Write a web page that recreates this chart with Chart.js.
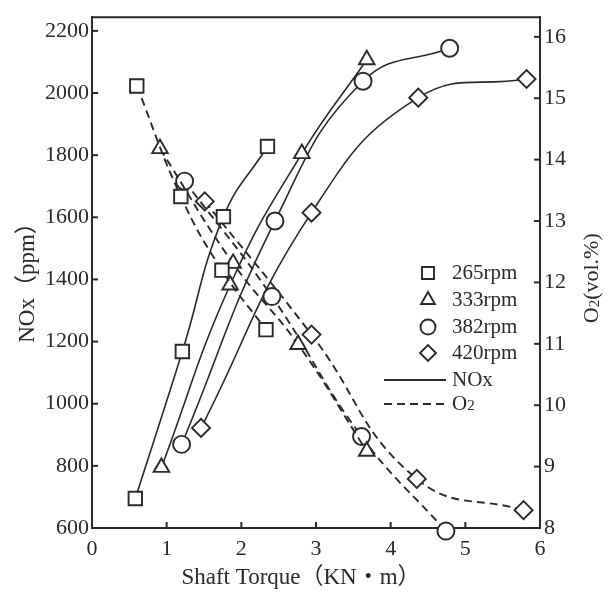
<!DOCTYPE html>
<html>
<head>
<meta charset="utf-8">
<script src="https://cdn.jsdelivr.net/npm/chart.js@4/dist/chart.umd.min.js"></script>
<style>
  html, body { margin: 0; padding: 0; background: #fff; }
  #wrap { width: 613px; height: 593px; }
</style>
</head>
<body>
<div id="wrap"><canvas id="c" width="613" height="593"></canvas></div>
<script>
// speed labels and marker shapes
const speeds = ["265rpm", "333rpm", "382rpm", "420rpm"];
const markers = ["rect", "triangle", "circle", "rectRot"];
const markerSize = [9.5, 9, 8.5, 9];

// NOx (ppm) vs shaft torque
const noxTorque = [
  [0.58, 1.21, 1.76, 2.35],
  [0.93, 1.85, 2.81, 3.68],
  [1.20, 2.45, 3.63, 4.79],
  [1.46, 2.94, 4.37, 5.82]
];
const noxValues = [
  [695, 1168, 1602, 1828],
  [795, 1382, 1805, 2107],
  [869, 1588, 2038, 2144],
  [922, 1615, 1985, 2045]
];

// O2 (vol.%) vs shaft torque
const o2Torque = [
  [0.60, 1.19, 1.74, 2.33],
  [0.91, 1.89, 2.76, 3.68],
  [1.24, 2.41, 3.61, 4.74],
  [1.51, 2.94, 4.35, 5.78]
];
const o2Values = [
  [15.20, 13.40, 12.20, 11.23],
  [14.18, 12.31, 10.99, 9.25],
  [13.65, 11.77, 9.49, 7.95],
  [13.32, 11.15, 8.80, 8.29]
];

const xTicks = [0, 1, 2, 3, 4, 5, 6];
const noxTicks = [600, 800, 1000, 1200, 1400, 1600, 1800, 2000, 2200];
const o2Ticks = [8, 9, 10, 11, 12, 13, 14, 15, 16];

const INK = "#2a2a2a";
const SERIF = "'Liberation Serif', 'Times New Roman', serif";
const CJK = "'Liberation Serif', 'Noto Sans CJK SC', serif";

function pairs(xs, ys) {
  return xs.map((x, i) => ({ x: x, y: ys[i] }));
}

const datasets = [];
speeds.forEach((s, i) => {
  datasets.push({
    label: s + " NOx",
    data: pairs(noxTorque[i], noxValues[i]),
    yAxisID: "y",
    showLine: true,
    borderColor: INK,
    borderWidth: 1.6,
    tension: 0.45,
    pointStyle: markers[i],
    pointRadius: markerSize[i],
    pointBorderWidth: 1.9,
    pointBackgroundColor: "#fff",
    pointBorderColor: INK,
    clip: false
  });
  datasets.push({
    label: s + " O2",
    data: pairs(o2Torque[i], o2Values[i]),
    yAxisID: "y2",
    showLine: true,
    borderColor: INK,
    borderWidth: 1.9,
    borderDash: [8, 5],
    tension: 0.45,
    pointStyle: markers[i],
    pointRadius: markerSize[i],
    pointBorderWidth: 1.9,
    pointBackgroundColor: "#fff",
    pointBorderColor: INK,
    clip: false
  });
});

// text with a lowered small "2" after the O
function drawO2(ctx, x, y, size, rest) {
  ctx.font = size + "px " + SERIF;
  ctx.fillText("O", x, y);
  let w = ctx.measureText("O").width;
  ctx.font = Math.round(size * 0.7) + "px " + SERIF;
  ctx.fillText("2", x + w, y + size * 0.12);
  w += ctx.measureText("2").width;
  if (rest) {
    ctx.font = size + "px " + SERIF;
    ctx.fillText(rest, x + w, y);
    w += ctx.measureText(rest).width;
  }
  return w;
}

const framePlugin = {
  id: "frame",
  afterDraw(chart) {
    const ctx = chart.ctx;
    const a = chart.chartArea;
    ctx.save();
    ctx.strokeStyle = INK;
    ctx.lineWidth = 2;
    ctx.beginPath();
    ctx.moveTo(a.left, a.top);
    ctx.lineTo(a.right, a.top);
    ctx.stroke();

    // inward tick marks
    ctx.lineWidth = 2;
    const sx = chart.scales.x, sy = chart.scales.y, sy2 = chart.scales.y2;
    xTicks.forEach(v => {
      const p = sx.getPixelForValue(v);
      ctx.beginPath(); ctx.moveTo(p, a.bottom); ctx.lineTo(p, a.bottom - 6); ctx.stroke();
    });
    noxTicks.forEach(v => {
      const p = sy.getPixelForValue(v);
      ctx.beginPath(); ctx.moveTo(a.left, p); ctx.lineTo(a.left + 6, p); ctx.stroke();
    });
    o2Ticks.forEach(v => {
      const p = sy2.getPixelForValue(v);
      ctx.beginPath(); ctx.moveTo(a.right, p); ctx.lineTo(a.right - 6, p); ctx.stroke();
    });

    // axis titles
    ctx.fillStyle = INK;
    ctx.textBaseline = "middle";
    ctx.textAlign = "center";
    ctx.font = "23px " + CJK;
    ctx.fillText("Shaft Torque（KN・m）", 301, 578);

    ctx.save();
    ctx.translate(28, 277);
    ctx.rotate(-Math.PI / 2);
    ctx.font = "23px " + CJK;
    ctx.fillText("NOx（ppm）", 0, 0);
    ctx.restore();

    ctx.save();
    ctx.translate(592, 277);
    ctx.rotate(-Math.PI / 2);
    ctx.textAlign = "left";
    ctx.font = "22px " + SERIF;
    const tw = ctx.measureText("O").width + 10 + ctx.measureText("(vol.%)").width;
    drawO2(ctx, -tw / 2, 0, 22, "(vol.%)");
    ctx.restore();

    // legend
    const lx = 428, tx = 452;
    const rows = [273, 300, 327, 353];
    ctx.textAlign = "left";
    speeds.forEach((s, i) => {
      ctx.fillStyle = "#fff";
      ctx.strokeStyle = INK;
      ctx.lineWidth = 1.9;
      Chart.helpers.drawPoint(ctx, {
        pointStyle: markers[i], radius: markerSize[i] - 1, rotation: 0, borderWidth: 1.9
      }, lx, rows[i]);
      ctx.fillStyle = INK;
      ctx.font = "21px " + SERIF;
      ctx.fillText(s, tx, rows[i]);
    });
    ctx.strokeStyle = INK;
    ctx.lineWidth = 1.8;
    ctx.beginPath(); ctx.moveTo(384, 380); ctx.lineTo(446, 380); ctx.stroke();
    ctx.setLineDash([8, 5]);
    ctx.beginPath(); ctx.moveTo(384, 404); ctx.lineTo(446, 404); ctx.stroke();
    ctx.setLineDash([]);
    ctx.fillStyle = INK;
    ctx.font = "21px " + SERIF;
    ctx.fillText("NOx", tx, 380);
    drawO2(ctx, tx, 404, 21, "");
    ctx.restore();
  }
};

function keepTicks(list) {
  return function (scale) {
    scale.ticks = list.map(v => ({ value: v }));
  };
}

const plain = v => String(v);

new Chart(document.getElementById("c"), {
  type: "scatter",
  data: { datasets: datasets },
  plugins: [framePlugin],
  options: {
    responsive: false,
    animation: false,
    layout: { padding: { top: 10, left: 0, right: 0, bottom: 0 } },
    plugins: {
      legend: { display: false },
      tooltip: { enabled: false }
    },
    scales: {
      x: {
        type: "linear",
        min: 0,
        max: 6,
        afterBuildTicks: keepTicks(xTicks),
        afterFit(s) { s.height = 65; },
        grid: { display: true, drawOnChartArea: false, drawTicks: false },
        border: { color: INK, width: 2 },
        ticks: { color: INK, padding: 8, callback: plain, font: { family: SERIF, size: 22 } }
      },
      y: {
        type: "linear",
        position: "left",
        min: 600,
        max: 2244,
        afterBuildTicks: keepTicks(noxTicks),
        afterFit(s) { s.width = 92; },
        grid: { display: true, drawOnChartArea: false, drawTicks: false },
        border: { color: INK, width: 2 },
        ticks: { color: INK, padding: 3, callback: plain, font: { family: SERIF, size: 22 } }
      },
      y2: {
        type: "linear",
        position: "right",
        min: 8,
        max: 16.32,
        afterBuildTicks: keepTicks(o2Ticks),
        afterFit(s) { s.width = 73; },
        grid: { display: true, drawOnChartArea: false, drawTicks: false },
        border: { color: INK, width: 2 },
        ticks: { color: INK, padding: 4, callback: plain, font: { family: SERIF, size: 22 } }
      }
    }
  }
});
</script>
</body>
</html>
